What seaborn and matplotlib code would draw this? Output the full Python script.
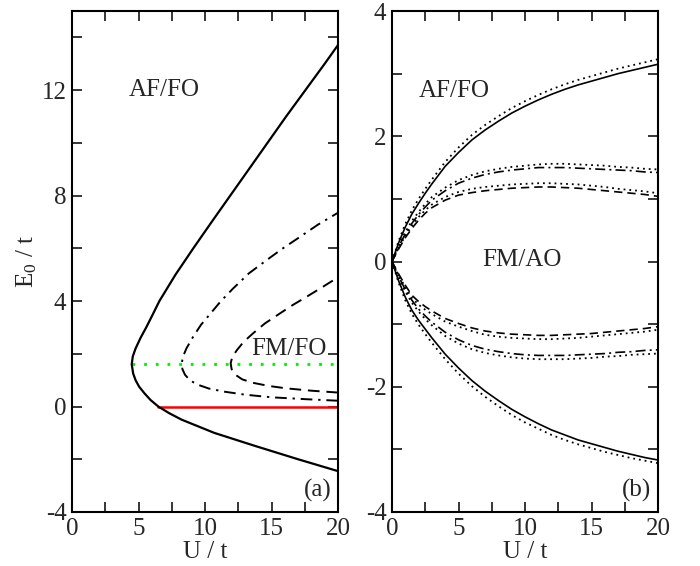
import numpy as np
import pandas as pd
import matplotlib
matplotlib.use("Agg")
import matplotlib.pyplot as plt
import seaborn as sns
from matplotlib.ticker import MultipleLocator

# ---------------- data: panel (a) ----------------
a_solid_U = [20, 17.0, 13.8, 10.7, 8.25, 7.3, 6.49, 5.9, 5.45, 5.05, 4.78, 4.6, 4.49, 4.57, 4.78, 5.15,
             5.58, 6.08, 6.57, 7.78, 9.12, 10.5, 11.9, 13.3, 14.7, 16.1, 17.55, 19.0, 20]
a_solid_E = [-2.45, -2.0, -1.5, -1.0, -0.5, -0.25, 0.0, 0.25, 0.5, 0.75, 1.0, 1.25, 1.6, 1.9, 2.2, 2.6,
             3.0, 3.5, 4.0, 5.0, 6.0, 7.0, 8.0, 9.0, 10.0, 11.0, 12.0, 13.0, 13.71]
a_dashdot_U = [20, 17.5, 15, 13, 11.5, 10.3, 9.5, 8.9, 8.5, 8.3, 8.25, 8.35, 8.6, 9.1, 9.7, 10.4,
               11.2, 12.1, 13.3, 14.6, 15.8, 17.1, 18.5, 20]
a_dashdot_E = [0.22, 0.28, 0.35, 0.45, 0.56, 0.68, 0.82, 0.98, 1.2, 1.42, 1.64, 1.9, 2.2, 2.64, 3.1, 3.52,
               4.0, 4.47, 5.05, 5.54, 5.98, 6.42, 6.9, 7.35]
a_dashed_U = [20, 18, 16.1, 14.8, 13.6, 12.8, 12.3, 12.0, 11.93, 12.05, 12.4, 12.9, 13.6, 14.5, 15.6,
              16.6, 17.6, 18.8, 20]
a_dashed_E = [0.53, 0.6, 0.69, 0.78, 0.9, 1.03, 1.2, 1.42, 1.64, 1.88, 2.14, 2.45, 2.77, 3.15, 3.52,
              3.85, 4.15, 4.52, 4.9]
a_green_U = [4.5, 20]
a_green_E = [1.62, 1.62]
a_red_U = [6.5, 20]
a_red_E = [0.0, 0.0]

# ---------------- data: panel (b) ----------------
b_U = [0, 0.5, 1, 1.5, 2, 2.5, 3, 4, 5, 6, 7, 8, 9, 10, 11, 12, 13, 14, 15, 16, 17, 18, 19, 20]
b_solid_up = [0, 0.30, 0.55, 0.76, 0.93, 1.09, 1.24, 1.52, 1.74, 1.94, 2.10, 2.24, 2.37, 2.48, 2.58, 2.67,
              2.75, 2.82, 2.88, 2.94, 3.00, 3.05, 3.10, 3.15]
b_solid_up_dot = [0, 0.33, 0.60, 0.82, 1.00, 1.16, 1.31, 1.59, 1.82, 2.02, 2.18, 2.32, 2.45, 2.56, 2.66,
                  2.75, 2.83, 2.90, 2.96, 3.02, 3.08, 3.13, 3.18, 3.23]
b_solid_lo = [0, -0.31, -0.57, -0.78, -0.94, -1.08, -1.22, -1.48, -1.70, -1.90, -2.07, -2.22, -2.36, -2.48,
              -2.59, -2.69, -2.77, -2.85, -2.91, -2.97, -3.03, -3.08, -3.13, -3.17]
b_solid_lo_dot = [0, -0.34, -0.62, -0.84, -1.01, -1.16, -1.30, -1.56, -1.79, -1.99, -2.16, -2.31, -2.45,
                  -2.57, -2.67, -2.77, -2.85, -2.92, -2.98, -3.04, -3.09, -3.14, -3.18, -3.22]
b_dd_up = [0, 0.24, 0.44, 0.61, 0.75, 0.87, 0.98, 1.13, 1.25, 1.33, 1.39, 1.43, 1.46, 1.48, 1.50, 1.50,
           1.50, 1.49, 1.48, 1.47, 1.46, 1.45, 1.43, 1.42]
b_dd_up_dot = [0, 0.26, 0.47, 0.65, 0.79, 0.92, 1.03, 1.18, 1.30, 1.38, 1.44, 1.48, 1.51, 1.53, 1.55, 1.56,
               1.56, 1.55, 1.54, 1.53, 1.51, 1.50, 1.48, 1.47]
b_da_up = [0, 0.20, 0.38, 0.53, 0.66, 0.77, 0.86, 0.98, 1.06, 1.10, 1.13, 1.15, 1.17, 1.18, 1.19, 1.19,
           1.18, 1.17, 1.15, 1.13, 1.11, 1.09, 1.07, 1.04]
b_da_up_dot = [0, 0.22, 0.41, 0.57, 0.71, 0.82, 0.91, 1.03, 1.11, 1.16, 1.19, 1.21, 1.23, 1.24, 1.25, 1.25,
               1.24, 1.23, 1.21, 1.19, 1.16, 1.14, 1.12, 1.09]
b_da_lo = [0, -0.20, -0.38, -0.54, -0.64, -0.72, -0.79, -0.91, -0.99, -1.06, -1.11, -1.14, -1.16, -1.17,
           -1.18, -1.18, -1.17, -1.16, -1.15, -1.13, -1.11, -1.09, -1.07, -1.04]
b_da_lo_dot = [0, -0.22, -0.41, -0.58, -0.69, -0.77, -0.84, -0.96, -1.04, -1.11, -1.17, -1.20, -1.22, -1.23,
               -1.24, -1.24, -1.23, -1.22, -1.20, -1.18, -1.16, -1.14, -1.12, -1.09]
b_dd_lo = [0, -0.24, -0.45, -0.62, -0.76, -0.87, -0.97, -1.13, -1.25, -1.34, -1.40, -1.44, -1.47, -1.49,
           -1.50, -1.50, -1.50, -1.49, -1.48, -1.47, -1.45, -1.44, -1.42, -1.41]
b_dd_lo_dot = [0, -0.26, -0.48, -0.66, -0.80, -0.92, -1.02, -1.19, -1.31, -1.40, -1.46, -1.50, -1.53, -1.55,
               -1.56, -1.56, -1.56, -1.55, -1.54, -1.52, -1.51, -1.49, -1.48, -1.47]

x_ticks = [0, 5, 10, 15, 20]
a_yticks = [-4, 0, 4, 8, 12]
b_yticks = [-4, -2, 0, 2, 4]

sns.set_style("ticks")
plt.rcParams['font.family'] = ['Liberation Serif', 'DejaVu Serif']
plt.rcParams['mathtext.fontset'] = 'custom'
plt.rcParams['mathtext.rm'] = 'Liberation Serif'
plt.rcParams['mathtext.it'] = 'Liberation Serif:italic'
plt.rcParams['axes.unicode_minus'] = False

FS = 18
fig = plt.figure(figsize=(7.0, 5.66), dpi=100)
axA = fig.add_axes([72/700, 54/566, 266/700, 501/566])
axB = fig.add_axes([392/700, 54/566, 266/700, 501/566])


def curve(ax, U, E, **kw):
    df = pd.DataFrame({"U": U, "E": E})
    sns.lineplot(data=df, x="U", y="E", sort=False, estimator=None, ax=ax, **kw)

# panel (a)
curve(axA, a_green_U, a_green_E, color="#00ee00", lw=2.0, linestyle=(0, (1, 3.2)))
curve(axA, a_red_U, a_red_E, color="#ff0000", lw=1.8)
curve(axA, a_solid_U, a_solid_E, color="black", lw=1.6)
curve(axA, a_dashdot_U, a_dashdot_E, color="black", lw=1.4, linestyle=(0, (6, 3, 1.2, 3)))
curve(axA, a_dashed_U, a_dashed_E, color="black", lw=1.4, linestyle=(0, (6, 3.5)))

# panel (b)
dot = (0, (1, 2.2))
dd = (0, (6, 2.5, 1.2, 2.5))
da = (0, (5, 3))
for vals, st in [(b_solid_up, '-'), (b_solid_lo, '-'), (b_dd_up, dd), (b_dd_lo, dd),
                 (b_da_up, da), (b_da_lo, da)]:
    curve(axB, b_U, vals, color="black", lw=1.2, linestyle=st)
for dotted in [b_solid_up_dot, b_solid_lo_dot, b_dd_up_dot, b_dd_lo_dot, b_da_up_dot, b_da_lo_dot]:
    curve(axB, b_U, dotted, color="black", lw=1.3, linestyle=dot)

for ax, yt, ylim in [(axA, a_yticks, (-4, 15)), (axB, b_yticks, (-4, 4))]:
    ax.set_xlim(0, 20)
    ax.set_ylim(*ylim)
    ax.set_xticks(x_ticks)
    ax.set_yticks(yt)
    ax.xaxis.set_minor_locator(MultipleLocator(2.5))
    ax.yaxis.set_minor_locator(MultipleLocator((yt[1] - yt[0]) / 2))
    ax.tick_params(which='both', direction='in', top=True, right=True,
                   length=7.5, width=1.3, labelsize=FS, pad=4)
    for s in ax.spines.values():
        s.set_linewidth(1.5)
        s.set_color('black')
    ax.set_xlabel("U / t", fontsize=FS, labelpad=1)
    ax.set_ylabel("")

axA.set_ylabel(r"E$_\mathrm{0}$ / t", fontsize=FS, labelpad=2)

axA.text(4.3, 12.0, "AF/FO", fontsize=FS, va='center', ha='left')
axA.text(13.5, 2.2, "FM/FO", fontsize=FS, va='center', ha='left')
axA.text(19.5, -3.2, "(a)", fontsize=FS, va='center', ha='right')
axB.text(2.0, 2.72, "AF/FO", fontsize=FS, va='center', ha='left')
axB.text(6.8, 0.02, "FM/AO", fontsize=FS, va='center', ha='left')
axB.text(19.5, -3.66, "(b)", fontsize=FS, va='center', ha='right')

fig.savefig("out.png", dpi=100)
